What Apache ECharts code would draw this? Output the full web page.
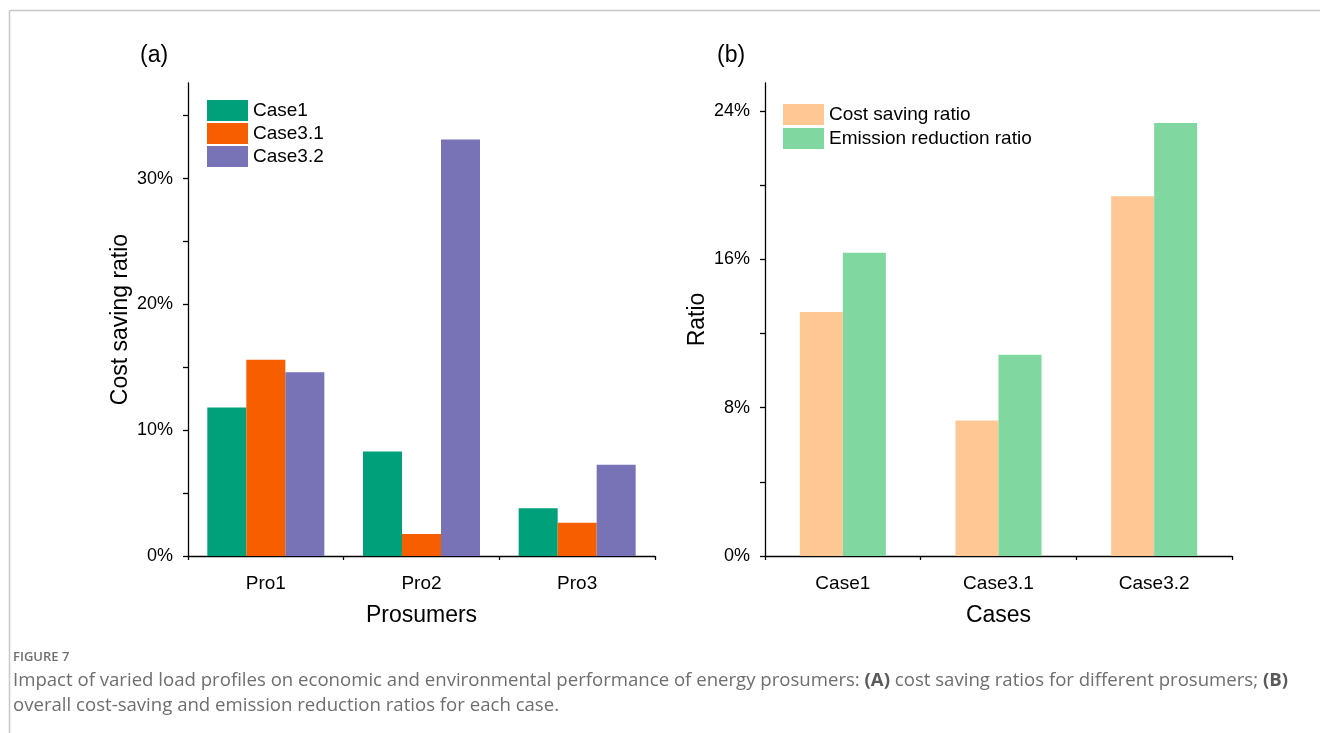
<!DOCTYPE html>
<html>
<head>
<meta charset="utf-8">
<script src="https://cdn.jsdelivr.net/npm/echarts@6/dist/echarts.min.js"></script>
<style>
  html, body { margin: 0; padding: 0; background: #fff; }
  #chart { width: 1320px; height: 733px; }
</style>
</head>
<body>
<div id="chart"></div>
<script>
// Panel (a): cost saving ratio per prosumer (%)
const prosumers = ['Pro1', 'Pro2', 'Pro3'];
const case1 = [11.8, 8.3, 3.8];
const case31 = [15.6, 1.75, 2.65];
const case32 = [14.6, 33.1, 7.25];

// Panel (b): overall ratios per case (%)
const cases = ['Case1', 'Case3.1', 'Case3.2'];
const costSaving = [13.15, 7.3, 19.4];
const emissionReduction = [16.35, 10.85, 23.35];

// Axis ticks and labels
const ticksA = [0, 5, 10, 15, 20, 25, 30, 35];
const labelsA = [0, 10, 20, 30];
const ticksB = [0, 4, 8, 12, 16, 20, 24];
const labelsB = [0, 8, 16, 24];

const FONT = 'Liberation Sans, Arial, sans-serif';
const CAPTION_FONT = 'Open Sans, Lato, sans-serif';

function valueAxis(gridIndex, max, ticks, labels, name) {
  return {
    type: 'value', gridIndex, min: 0, max,
    name, nameLocation: 'middle', nameGap: 56,
    nameTextStyle: { fontFamily: FONT, fontSize: 23, color: '#000' },
    axisLine: { show: true, lineStyle: { color: '#000', width: 1.3 } },
    axisTick: { show: true, inside: false, length: 5, customValues: ticks, lineStyle: { color: '#000', width: 1.3 } },
    axisLabel: { customValues: labels, formatter: v => v + '%', fontFamily: FONT, fontSize: 18, color: '#000', margin: 15 },
    splitLine: { show: false }
  };
}

function catAxes(gridIndex, data, name) {
  return [{
    type: 'category', gridIndex, data, position: 'bottom',
    name, nameLocation: 'middle', nameGap: 48,
    nameTextStyle: { fontFamily: FONT, fontSize: 23, color: '#000' },
    axisLine: { lineStyle: { color: '#000', width: 1.3 } },
    axisTick: { alignWithLabel: true, length: 6, lineStyle: { color: '#000', width: 1.3 } },
    axisLabel: { fontFamily: FONT, fontSize: 19, color: '#000', margin: 18 },
    splitLine: { show: false }
  }, {
    // boundary ticks between categories
    type: 'category', gridIndex, data, position: 'bottom',
    axisLine: { show: false },
    axisTick: { show: true, alignWithLabel: false, length: 4, lineStyle: { color: '#000', width: 1.3 } },
    axisLabel: { show: false },
    splitLine: { show: false }
  }];
}

const chart = echarts.init(document.getElementById('chart'), null, { renderer: 'canvas' });

chart.setOption({
  backgroundColor: '#fff',
  animation: false,
  grid: [
    { left: 188, top: 83, width: 467, height: 473 },
    { left: 765, top: 83, width: 467, height: 473 }
  ],
  xAxis: [...catAxes(0, prosumers, 'Prosumers'), ...catAxes(1, cases, 'Cases')],
  yAxis: [
    valueAxis(0, 37.6, ticksA, labelsA, 'Cost saving ratio'),
    valueAxis(1, 25.5, ticksB, labelsB, 'Ratio')
  ],
  legend: [{
    orient: 'vertical', left: 207, top: 100, padding: 0,
    icon: 'rect', itemWidth: 41, itemHeight: 21, itemGap: 2,
    textStyle: { fontFamily: FONT, fontSize: 19, color: '#000' },
    data: ['Case1', 'Case3.1', 'Case3.2']
  }, {
    orient: 'vertical', left: 783, top: 104, padding: 0,
    icon: 'rect', itemWidth: 41, itemHeight: 21, itemGap: 3,
    textStyle: { fontFamily: FONT, fontSize: 19, color: '#000' },
    data: ['Cost saving ratio', 'Emission reduction ratio']
  }],
  series: [
    { name: 'Case1', type: 'bar', xAxisIndex: 0, yAxisIndex: 0, data: case1, barWidth: 39, barGap: '0%', itemStyle: { color: '#00A07A' } },
    { name: 'Case3.1', type: 'bar', xAxisIndex: 0, yAxisIndex: 0, data: case31, barWidth: 39, barGap: '0%', itemStyle: { color: '#F65E00' } },
    { name: 'Case3.2', type: 'bar', xAxisIndex: 0, yAxisIndex: 0, data: case32, barWidth: 39, barGap: '0%', itemStyle: { color: '#7872B6' } },
    { name: 'Cost saving ratio', type: 'bar', xAxisIndex: 2, yAxisIndex: 1, data: costSaving, barWidth: 43, barGap: '0%', itemStyle: { color: '#FFC794' } },
    { name: 'Emission reduction ratio', type: 'bar', xAxisIndex: 2, yAxisIndex: 1, data: emissionReduction, barWidth: 43, barGap: '0%', itemStyle: { color: '#80D7A0' } }
  ],
  graphic: [
    // figure frame
    { type: 'line', shape: { x1: 9.5, y1: 10.5, x2: 1320, y2: 10.5 }, style: { stroke: '#c8c8c8', lineWidth: 1.5 }, silent: true },
    { type: 'line', shape: { x1: 9.5, y1: 10.5, x2: 9.5, y2: 733 }, style: { stroke: '#c8c8c8', lineWidth: 1.5 }, silent: true },
    // panel tags
    { type: 'text', left: 140, top: 44, style: { text: '(a)', font: '23px ' + FONT, fill: '#000' } },
    { type: 'text', left: 717, top: 44, style: { text: '(b)', font: '23px ' + FONT, fill: '#000' } },
    // caption
    { type: 'text', left: 13, top: 651, style: { text: 'FIGURE 7', font: '600 13px ' + CAPTION_FONT, fill: '#707070' } },
    {
      type: 'text', left: 13, top: 668,
      style: {
        text: 'Impact of varied load profiles on economic and environmental performance of energy prosumers: {b|(A)} cost saving ratios for different prosumers; {b|(B)}\noverall cost-saving and emission reduction ratios for each case.',
        font: '18.6px ' + CAPTION_FONT, fill: '#6e6e6e', lineHeight: 25,
        rich: { b: { fontFamily: CAPTION_FONT, fontSize: 18.6, fontWeight: 'bold', fill: '#5a5a5a', lineHeight: 25 } }
      }
    }
  ]
});
</script>
</body>
</html>
